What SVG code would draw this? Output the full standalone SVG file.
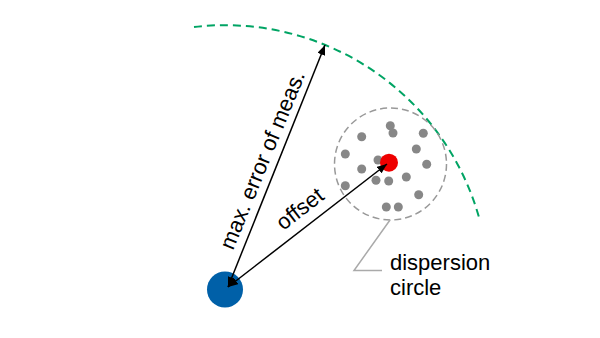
<svg xmlns="http://www.w3.org/2000/svg" width="600" height="338" viewBox="0 0 600 338">
<defs>
<style>
.lbl{font-family:"Liberation Sans",Arial,sans-serif;font-size:22px;fill:#000}
.dot{fill:#878787}
.arr{stroke:#000;stroke-width:1.5;fill:none;marker-start:url(#ah);marker-end:url(#ah)}
</style>
<marker id="ah" viewBox="0 0 10 8" refX="10" refY="4" markerWidth="10" markerHeight="8" markerUnits="userSpaceOnUse" orient="auto-start-reverse">
<path d="M0,0 L10,4 L0,8 Z" fill="#000"/>
</marker>
</defs>
<rect width="600" height="338" fill="#fff"/>
<g id="limit-arc">
<path d="M194,27 A264,264 0 0 1 480,221" fill="none" stroke="#00A464" stroke-width="2" stroke-dasharray="8,5"/>
</g>
<g id="dispersion-circle">
<circle cx="390.5" cy="164" r="56" fill="none" stroke="#999" stroke-width="1.5" stroke-dasharray="7,4"/>
<circle class="dot" cx="390.3" cy="125.7" r="4.5"/>
<circle class="dot" cx="393" cy="133" r="4.5"/>
<circle class="dot" cx="361.7" cy="136.7" r="4.5"/>
<circle class="dot" cx="423.3" cy="133.3" r="4.5"/>
<circle class="dot" cx="345.3" cy="154" r="4.5"/>
<circle class="dot" cx="416.3" cy="149" r="4.5"/>
<circle class="dot" cx="378" cy="160" r="4.5"/>
<circle class="dot" cx="361.7" cy="169" r="4.5"/>
<circle class="dot" cx="426.7" cy="164.3" r="4.5"/>
<circle class="dot" cx="376" cy="180.3" r="4.5"/>
<circle class="dot" cx="388.7" cy="181" r="4.5"/>
<circle class="dot" cx="406.3" cy="177" r="4.5"/>
<circle class="dot" cx="345.3" cy="185.7" r="4.5"/>
<circle class="dot" cx="418.7" cy="194.7" r="4.5"/>
<circle class="dot" cx="386.3" cy="207" r="4.5"/>
<circle class="dot" cx="398.3" cy="207" r="4.5"/>
</g>
<g id="target">
<circle cx="389" cy="162.7" r="9" fill="#EE0000"/>
</g>
<g id="origin">
<circle cx="225" cy="289.5" r="18" fill="#0060A8"/>
</g>
<g id="connectors">
<line class="arr" x1="228" y1="287" x2="325" y2="45"/>
<line class="arr" x1="228" y1="287" x2="387" y2="164"/>
<polyline points="390,220 354,270.5 382,270.5" fill="none" stroke="#aaa" stroke-width="1.5"/>
</g>
<g id="labels">
<text class="lbl" transform="translate(233,251) rotate(-67.7)">max. error of meas.</text>
<text class="lbl" transform="translate(283.3,230.9) rotate(-37.6)">offset</text>
<text class="lbl" x="390" y="270">dispersion</text>
<text class="lbl" x="390" y="295">circle</text>
</g>
</svg>
